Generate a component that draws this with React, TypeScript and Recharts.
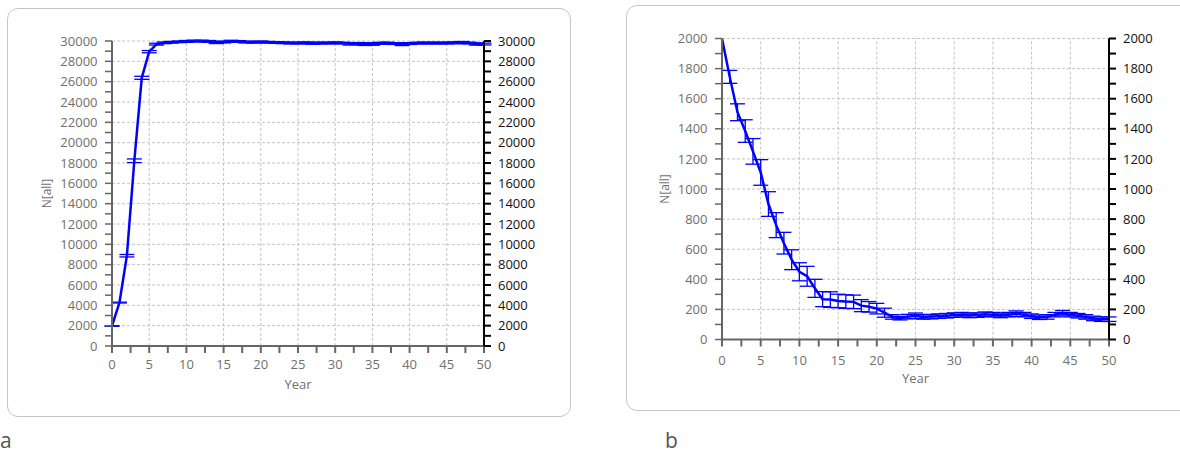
import { LineChart, Line, XAxis, YAxis, ErrorBar, ReferenceLine } from "recharts";

// year axis shared by both panels
const years = [
  0, 1, 2, 3, 4, 5, 6, 7, 8, 9, 10, 11, 12, 13, 14, 15, 16, 17, 18, 19, 20, 21, 22, 23, 24, 25,
  26, 27, 28, 29, 30, 31, 32, 33, 34, 35, 36, 37, 38, 39, 40, 41, 42, 43, 44, 45, 46, 47, 48, 49, 50,
];

// panel a: N[all] mean and error
const meanA = [
  1970, 4270, 8880, 18220, 26380, 28950, 29690, 29820, 29880, 29920, 29960,
  30000, 30000, 29960, 29850, 29900, 29980, 29960, 29900, 29880, 29920,
  29880, 29850, 29820, 29800, 29800, 29820, 29780, 29800, 29800, 29820,
  29800, 29720, 29750, 29700, 29700, 29780, 29800, 29750, 29680, 29750,
  29800, 29800, 29800, 29800, 29800, 29820, 29850, 29800, 29700, 29700,
];
const errA = [
  30, 40, 120, 180, 150, 110, 90, 80, 80, 80, 90,
  80, 80, 90, 100, 90, 90, 80, 90, 80, 80,
  80, 80, 80, 80, 80, 80, 100, 80, 80, 80,
  80, 120, 100, 140, 120, 90, 80, 90, 130, 90,
  80, 80, 80, 80, 80, 90, 100, 90, 110, 90,
];

// panel b: N[all] mean and error
const meanB = [
  2000, 1745, 1510, 1385, 1250, 1110, 900, 760, 640, 530, 450,
  420, 340, 268, 265, 256, 252, 250, 225, 217, 205,
  178, 150, 142, 152, 158, 150, 152, 155, 158, 162,
  165, 160, 162, 168, 165, 160, 165, 172, 165, 155,
  148, 150, 165, 175, 165, 158, 150, 140, 135, 135,
];
const errB = [
  0, 43, 56, 75, 85, 85, 82, 83, 72, 66, 60,
  66, 60, 50, 52, 45, 45, 45, 40, 35, 35,
  30, 15, 12, 15, 18, 15, 15, 15, 15, 15,
  15, 15, 15, 15, 15, 15, 15, 18, 15, 15,
  15, 15, 15, 18, 15, 15, 15, 15, 15, 15,
];

const xTicks = [0, 2.5, 5, 7.5, 10, 12.5, 15, 17.5, 20, 22.5, 25, 27.5, 30, 32.5, 35, 37.5, 40, 42.5, 45, 47.5, 50];
const xLabels = [0, 5, 10, 15, 20, 25, 30, 35, 40, 45, 50];

const yTicksA = [
  0, 1000, 2000, 3000, 4000, 5000, 6000, 7000, 8000, 9000, 10000, 11000, 12000, 13000, 14000, 15000,
  16000, 17000, 18000, 19000, 20000, 21000, 22000, 23000, 24000, 25000, 26000, 27000, 28000, 29000, 30000,
];
const yLabelsA = [0, 2000, 4000, 6000, 8000, 10000, 12000, 14000, 16000, 18000, 20000, 22000, 24000, 26000, 28000, 30000];

const yTicksB = [0, 100, 200, 300, 400, 500, 600, 700, 800, 900, 1000, 1100, 1200, 1300, 1400, 1500, 1600, 1700, 1800, 1900, 2000];
const yLabelsB = [0, 200, 400, 600, 800, 1000, 1200, 1400, 1600, 1800, 2000];

const dataA = years.map((year, i) => ({ year, mean: meanA[i], err: errA[i] }));
const dataB = years.map((year, i) => ({ year, mean: meanB[i], err: errB[i] }));

const blue = "#0000ff";
const grey = "#6f6f6f";
const axisGrey = "#666";
const gridColor = "#c4c4c4";
const font = "'Open Sans', 'Noto Sans', sans-serif";

const tickText = (labels: number[], anchor: string, dy: string, color: string) => (props: any) => {
  const { x, y, payload } = props;
  if (!labels.includes(payload.value)) return <g />;
  return (
    <text x={x} y={y} dy={dy} textAnchor={anchor} fill={color} fontSize={13} fontFamily={font}>
      {payload.value}
    </text>
  );
};

function Panel({
  data,
  yTicks,
  yLabels,
  yMax,
  width,
  height,
  margin,
  leftWidth,
  xMargin,
}: {
  data: { year: number; mean: number; err: number }[];
  yTicks: number[];
  yLabels: number[];
  yMax: number;
  width: number;
  height: number;
  margin: { top: number; right: number; bottom: number; left: number };
  leftWidth: number;
  xMargin: number;
}) {
  return (
    <LineChart width={width} height={height} data={data} margin={margin}>
      {xLabels.slice(1, -1).map((v) => (
        <ReferenceLine key={"gx" + v} x={v} yAxisId="left" stroke={gridColor} strokeDasharray="3 2" />
      ))}
      {yLabels.slice(1).map((v) => (
        <ReferenceLine key={"gy" + v} y={v} yAxisId="left" stroke={gridColor} strokeDasharray="3 2" />
      ))}
      <XAxis
        dataKey="year"
        type="number"
        domain={[0, 50]}
        ticks={xTicks}
        interval={0}
        height={50}
        tickSize={7}
        tickMargin={xMargin}
        tick={tickText(xLabels, "middle", "0.71em", grey)}
        axisLine={{ stroke: axisGrey, strokeWidth: 2 }}
        tickLine={{ stroke: axisGrey, strokeWidth: 2 }}
        label={{ value: "Year", position: "insideBottom", offset: 7, fill: grey, fontSize: 13, fontFamily: font }}
      />
      <YAxis
        yAxisId="left"
        type="number"
        domain={[0, yMax]}
        allowDataOverflow
        ticks={yTicks}
        interval={0}
        width={leftWidth}
        tickSize={7}
        tickMargin={7.5}
        tick={tickText(yLabels, "end", "0.355em", grey)}
        axisLine={{ stroke: axisGrey, strokeWidth: 2 }}
        tickLine={{ stroke: axisGrey, strokeWidth: 1.5 }}
        label={{ value: "N[all]", angle: -90, position: "center", fill: grey, fontSize: 12, fontFamily: font }}
      />
      <YAxis
        yAxisId="right"
        orientation="right"
        type="number"
        domain={[0, yMax]}
        allowDataOverflow
        ticks={yTicks}
        interval={0}
        width={60}
        tickSize={7}
        tickMargin={7}
        tick={tickText(yLabels, "start", "0.355em", "#111")}
        axisLine={{ stroke: "#000", strokeWidth: 2 }}
        tickLine={{ stroke: "#000", strokeWidth: 2 }}
      />
      <Line
        yAxisId="left"
        type="linear"
        dataKey="mean"
        stroke={blue}
        strokeWidth={2.5}
        dot={false}
        isAnimationActive={false}
      >
        <ErrorBar dataKey="err" direction="y" width={7.5} stroke={blue} strokeWidth={1.3} isAnimationActive={false} />
      </Line>
    </LineChart>
  );
}

export default function App() {
  return (
    <div style={{ position: "absolute", left: 0, top: 0, width: 1180, height: 454, overflow: "hidden", background: "#fff" }}>
      <div
        style={{
          position: "absolute",
          left: 7,
          top: 8,
          width: 564,
          height: 409,
          boxSizing: "border-box",
          border: "1px solid #c6c6c6",
          borderRadius: 11,
        }}
      />
      <div
        style={{
          position: "absolute",
          left: 626,
          top: 5,
          width: 620,
          height: 406,
          boxSizing: "border-box",
          border: "1px solid #c6c6c6",
          borderRadius: 11,
        }}
      />
      <div style={{ position: "absolute", left: 0, top: 0 }}>
        <Panel
          data={dataA}
          yTicks={yTicksA}
          yLabels={yLabelsA}
          yMax={30000}
          width={572}
          height={420}
          margin={{ top: 41, right: 28, bottom: 24, left: -18 }}
          leftWidth={130}
          xMargin={7}
        />
      </div>
      <div style={{ position: "absolute", left: 627, top: 0 }}>
        <Panel
          data={dataB}
          yTicks={yTicksB}
          yLabels={yLabelsB}
          yMax={2000}
          width={560}
          height={410}
          margin={{ top: 38.5, right: 18, bottom: 20.5, left: -19 }}
          leftWidth={114}
          xMargin={9.5}
        />
      </div>
      <svg style={{ position: "absolute", left: 0, top: 0 }} width={1180} height={454}>
        <text x={0} y={448} fontSize={21} fill="#555" fontFamily={font}>
          a
        </text>
        <text x={665} y={448} fontSize={21} fill="#555" fontFamily={font}>
          b
        </text>
      </svg>
    </div>
  );
}
